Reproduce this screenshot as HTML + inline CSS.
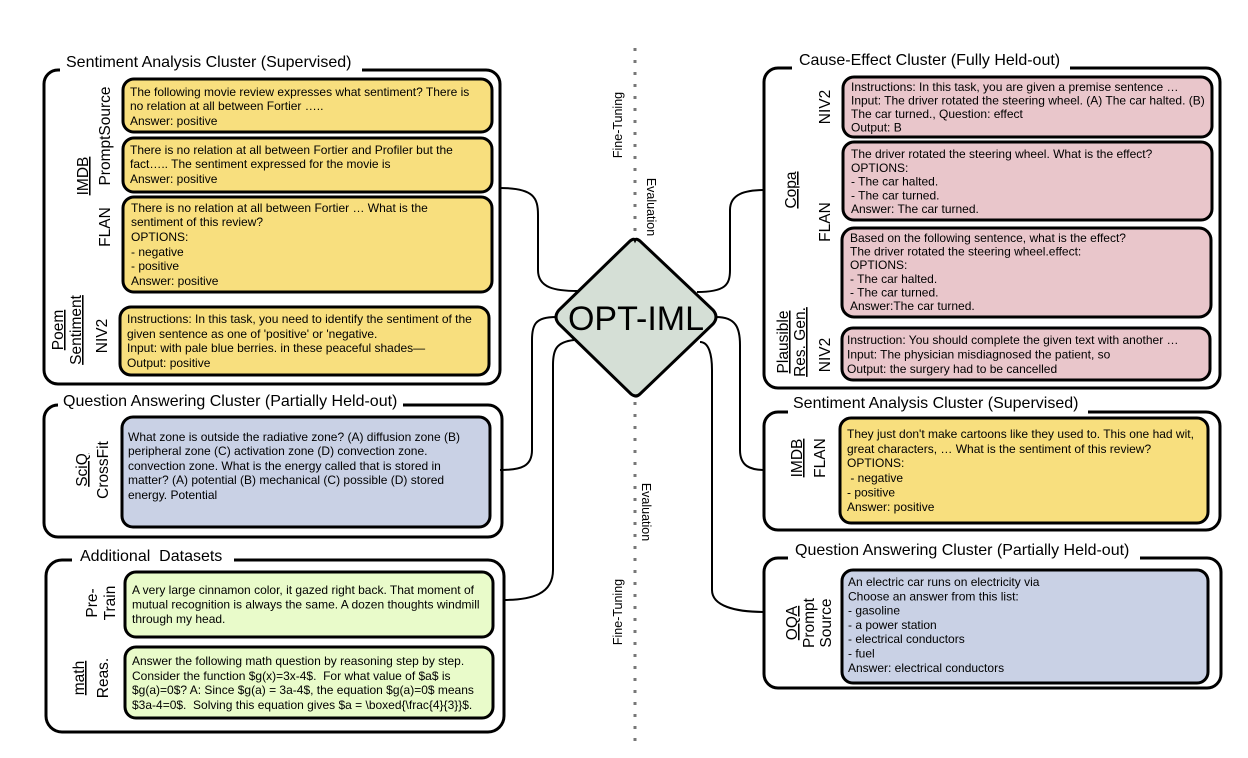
<!DOCTYPE html>
<html><head><meta charset="utf-8"><style>
html,body{margin:0;padding:0;background:#fff;}
svg{display:block;}
text{font-family:"Liberation Sans",Arial,sans-serif;fill:#000;}
.t{font-size:12px;}
.h{font-size:16px;}
.l{font-size:15.5px;}
.s{font-size:12.5px;}
.box{stroke:#000;stroke-width:3;}
.grp{fill:none;stroke:#000;stroke-width:3;}
.c{fill:none;stroke:#000;stroke-width:2;}
</style></head><body>
<svg width="1248" height="758" viewBox="0 0 1248 758" xmlns="http://www.w3.org/2000/svg">
<line x1="635" y1="48" x2="635" y2="236" stroke="#777" stroke-width="3" stroke-dasharray="3 9"/>
<line x1="635" y1="402" x2="635" y2="748" stroke="#777" stroke-width="3" stroke-dasharray="3 9"/>
<text class="s" transform="translate(622,125) rotate(-90)" text-anchor="middle">Fine-Tuning</text>
<text class="s" transform="translate(647,207) rotate(90)" text-anchor="middle">Evaluation</text>
<text class="s" transform="translate(642,512) rotate(90)" text-anchor="middle">Evaluation</text>
<text class="s" transform="translate(622,612) rotate(-90)" text-anchor="middle">Fine-Tuning</text>

<path class="c" d="M500,188 C534,188 538,198 538,215 L538,270 C538,288 555,291 578,291"/>
<path class="c" d="M556,317 C535,317 532,325 532,340 L532,450 C532,466 522,470 500,470"/>
<path class="c" d="M574,340 C556,342 553,350 553,365 L553,570 C553,594 532,600 503,600"/>
<path class="c" d="M697,292 C725,292 730,285 730,270 L730,210 C730,194 745,190 765,190"/>
<path class="c" d="M716,317 C736,317 740,328 740,345 L740,450 C740,466 750,470 765,470"/>
<path class="c" d="M700,342 C709,342 712,355 712,370 L712,590 C712,606 735,612 765,612"/>

<path d="M635,240 Q636,238 640,241 L713,310 Q719,317 713,324 L640,394 Q636,398 631,394 L559,324 Q553,317 559,310 L630,241 Q634,238 635,240 Z" fill="#d5dfd6" stroke="#000" stroke-width="3"/>
<text x="636" y="330" text-anchor="middle" style="font-size:34px">OPT-IML</text>

<!-- LEFT G1 -->
<rect class="grp" x="44" y="70" width="456" height="314" rx="14"/>
<rect x="60" y="50" width="302" height="24" fill="#fff"/>
<text class="h" x="66" y="67">Sentiment Analysis Cluster (Supervised)</text>
<rect class="box" x="123" y="79" width="369" height="53" rx="11" fill="#f8df7e"/>
<text class="t" x="130" y="96">The following movie review expresses what sentiment? There is<tspan x="130" dy="14">no relation at all between Fortier …..</tspan><tspan x="130" dy="15">Answer: positive</tspan></text>
<rect class="box" x="123" y="138" width="369" height="54" rx="11" fill="#f8df7e"/>
<text class="t" x="130" y="154">There is no relation at all between Fortier and Profiler but the<tspan x="130" dy="14">fact….. The sentiment expressed for the movie is</tspan><tspan x="130" dy="15">Answer: positive</tspan></text>
<rect class="box" x="123" y="197" width="369" height="95" rx="11" fill="#f8df7e"/>
<text class="t" x="131" y="212">There is no relation at all between Fortier … What is the<tspan x="131" dy="14">sentiment of this review?</tspan><tspan x="131" dy="15">OPTIONS:</tspan><tspan x="131" dy="15">- negative</tspan><tspan x="131" dy="14">- positive</tspan><tspan x="131" dy="15">Answer: positive</tspan></text>
<rect class="box" x="120" y="307" width="369" height="68" rx="11" fill="#f8df7e"/>
<text class="t" x="127" y="323">Instructions: In this task, you need to identify the sentiment of the<tspan x="127" dy="15">given sentence as one of 'positive' or 'negative.</tspan><tspan x="127" dy="14">Input: with pale blue berries. in these peaceful shades—</tspan><tspan x="127" dy="15">Output: positive</tspan></text>
<text class="l" transform="translate(88,176) rotate(-90)" text-anchor="middle" text-decoration="underline">IMDB</text>
<text class="l" transform="translate(110,136) rotate(-90)" text-anchor="middle">PromptSource</text>
<text class="l" transform="translate(110,227) rotate(-90)" text-anchor="middle">FLAN</text>
<text class="l" transform="translate(63,330) rotate(-90)" text-anchor="middle" text-decoration="underline">Poem</text>
<text class="l" transform="translate(81,330) rotate(-90)" text-anchor="middle" text-decoration="underline">Sentiment</text>
<text class="l" transform="translate(107,336) rotate(-90)" text-anchor="middle">NIV2</text>

<!-- LEFT G2 -->
<rect class="grp" x="44" y="405" width="458" height="132" rx="14"/>
<rect x="58" y="388" width="345" height="22" fill="#fff"/>
<text class="h" x="63" y="406">Question Answering Cluster (Partially Held-out)</text>
<rect class="box" x="122" y="417" width="368" height="110" rx="11" fill="#c9d1e5"/>
<text class="t" x="128" y="441">What zone is outside the radiative zone? (A) diffusion zone (B)<tspan x="128" dy="14">peripheral zone (C) activation zone (D) convection zone.</tspan><tspan x="128" dy="15">convection zone. What is the energy called that is stored in</tspan><tspan x="128" dy="14">matter? (A) potential (B) mechanical (C) possible (D) stored</tspan><tspan x="128" dy="15">energy. Potential</tspan></text>
<text class="l" transform="translate(87,470) rotate(-90)" text-anchor="middle" text-decoration="underline">SciQ</text>
<text class="l" transform="translate(108,470) rotate(-90)" text-anchor="middle">CrossFit</text>

<!-- LEFT G3 -->
<rect class="grp" x="46" y="560" width="458" height="172" rx="16"/>
<rect x="72" y="543" width="162" height="22" fill="#fff"/>
<text class="h" x="80" y="561" xml:space="preserve">Additional  Datasets</text>
<rect class="box" x="125" y="572" width="368" height="65" rx="11" fill="#e9fbca"/>
<text class="t" x="132" y="594">A very large cinnamon color, it gazed right back. That moment of<tspan x="132" dy="14.5">mutual recognition is always the same. A dozen thoughts windmill</tspan><tspan x="132" dy="14.5">through my head.</tspan></text>
<rect class="box" x="125" y="647" width="368" height="71" rx="11" fill="#e9fbca"/>
<text class="t" x="132" y="665">Answer the following math question by reasoning step by step.<tspan x="132" dy="15" xml:space="preserve">Consider the function $g(x)=3x-4$.  For what value of $a$ is</tspan><tspan x="132" dy="14">$g(a)=0$? A: Since $g(a) = 3a-4$, the equation $g(a)=0$ means</tspan><tspan x="132" dy="15" xml:space="preserve">$3a-4=0$.  Solving this equation gives $a = \boxed{\frac{4}{3}}$.</tspan></text>
<text class="l" transform="translate(97,603) rotate(-90)" text-anchor="middle">Pre-</text>
<text class="l" transform="translate(115,603) rotate(-90)" text-anchor="middle">Train</text>
<text class="l" transform="translate(84,678) rotate(-90)" text-anchor="middle" text-decoration="underline">math</text>
<text class="l" transform="translate(108,678) rotate(-90)" text-anchor="middle">Reas.</text>

<!-- RIGHT G1 -->
<rect class="grp" x="764" y="68" width="456" height="320" rx="14"/>
<rect x="792" y="48" width="278" height="24" fill="#fff"/>
<text class="h" x="799" y="65">Cause-Effect Cluster (Fully Held-out)</text>
<rect class="box" x="843" y="77" width="369" height="60" rx="11" fill="#e9c6cb"/>
<text class="t" x="851" y="91">Instructions: In this task, you are given a premise sentence …<tspan x="851" dy="13.5">Input: The driver rotated the steering wheel. (A) The car halted. (B)</tspan><tspan x="851" dy="13.5">The car turned., Question: effect</tspan><tspan x="851" dy="13.5">Output: B</tspan></text>
<rect class="box" x="843" y="142" width="369" height="78" rx="11" fill="#e9c6cb"/>
<text class="t" x="851" y="158">The driver rotated the steering wheel. What is the effect?<tspan x="851" dy="13.8">OPTIONS:</tspan><tspan x="851" dy="13.8">- The car halted.</tspan><tspan x="851" dy="13.8">- The car turned.</tspan><tspan x="851" dy="13.8">Answer: The car turned.</tspan></text>
<rect class="box" x="842" y="228" width="369" height="89" rx="12" fill="#e9c6cb"/>
<text class="t" x="850" y="242">Based on the following sentence, what is the effect?<tspan x="850" dy="13.6">The driver rotated the steering wheel.effect:</tspan><tspan x="850" dy="13.6">OPTIONS:</tspan><tspan x="850" dy="13.6">- The car halted.</tspan><tspan x="850" dy="13.6">- The car turned.</tspan><tspan x="850" dy="13.6">Answer:The car turned.</tspan></text>
<rect class="box" x="842" y="328" width="368" height="52" rx="11" fill="#e9c6cb"/>
<text class="t" x="847" y="344">Instruction: You should complete the given text with another …<tspan x="847" dy="14.5">Input: The physician misdiagnosed the patient, so</tspan><tspan x="847" dy="14.5">Output: the surgery had to be cancelled</tspan></text>
<text class="l" transform="translate(830,107) rotate(-90)" text-anchor="middle">NIV2</text>
<text class="l" transform="translate(796,190) rotate(-90)" text-anchor="middle" text-decoration="underline">Copa</text>
<text class="l" transform="translate(830,222) rotate(-90)" text-anchor="middle">FLAN</text>
<text class="l" transform="translate(788,342) rotate(-90)" text-anchor="middle" text-decoration="underline">Plausible</text>
<text class="l" transform="translate(805,342) rotate(-90)" text-anchor="middle" text-decoration="underline">Res. Gen.</text>
<text class="l" transform="translate(830,355) rotate(-90)" text-anchor="middle">NIV2</text>

<!-- RIGHT G2 -->
<rect class="grp" x="764" y="412" width="456" height="118" rx="14"/>
<rect x="788" y="390" width="300" height="24" fill="#fff"/>
<text class="h" x="793" y="408">Sentiment Analysis Cluster (Supervised)</text>
<rect class="box" x="840" y="418" width="368" height="105" rx="11" fill="#f8df7e"/>
<text class="t" x="847" y="438">They just don't make cartoons like they used to. This one had wit,<tspan x="847" dy="15">great characters, … What is the sentiment of this review?</tspan><tspan x="847" dy="14">OPTIONS:</tspan><tspan x="847" dy="15" xml:space="preserve"> - negative</tspan><tspan x="847" dy="14.5">- positive</tspan><tspan x="847" dy="14.5">Answer: positive</tspan></text>
<text class="l" transform="translate(802,458) rotate(-90)" text-anchor="middle" text-decoration="underline">IMDB</text>
<text class="l" transform="translate(825,458) rotate(-90)" text-anchor="middle">FLAN</text>

<!-- RIGHT G3 -->
<rect class="grp" x="764" y="558" width="457" height="130" rx="14"/>
<rect x="788" y="538" width="352" height="24" fill="#fff"/>
<text class="h" x="795" y="555">Question Answering Cluster (Partially Held-out)</text>
<rect class="box" x="842" y="570" width="366" height="113" rx="11" fill="#c9d1e5"/>
<text class="t" x="848" y="586">An electric car runs on electricity via<tspan x="848" dy="14.3">Choose an answer from this list:</tspan><tspan x="848" dy="14.3">- gasoline</tspan><tspan x="848" dy="14.3">- a power station</tspan><tspan x="848" dy="14.3">- electrical conductors</tspan><tspan x="848" dy="14.3">- fuel</tspan><tspan x="848" dy="14.3">Answer: electrical conductors</tspan></text>
<text class="l" transform="translate(797,623) rotate(-90)" text-anchor="middle" text-decoration="underline">OQA</text>
<text class="l" transform="translate(814,623) rotate(-90)" text-anchor="middle">Prompt</text>
<text class="l" transform="translate(831,623) rotate(-90)" text-anchor="middle">Source</text>
</svg>
</body></html>
